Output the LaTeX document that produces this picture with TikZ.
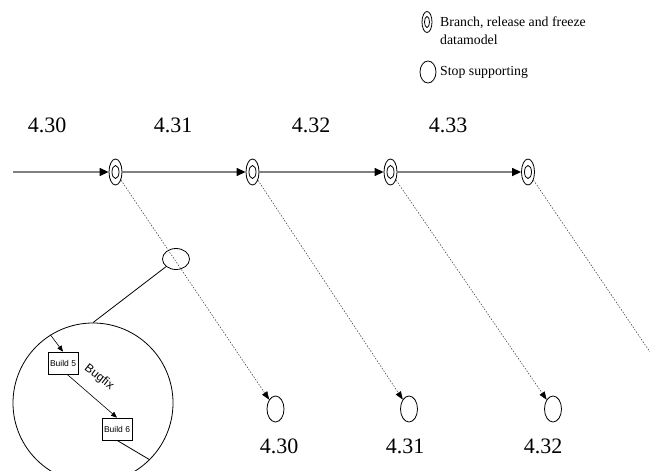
\documentclass[tikz,border=0pt]{standalone}
\usepackage{fontspec}
\setmainfont{Liberation Serif}
\setsansfont{Liberation Sans}
\usetikzlibrary{arrows.meta}
\usetikzlibrary{shapes.geometric}

\tikzset{
  release/.style={ellipse,draw,line width=0.8pt,inner sep=0pt,
    minimum width=13pt,minimum height=26pt,
    path picture={\draw[line width=0.8pt] (path picture bounding box.center) ellipse (3.5pt and 6.5pt);}},
  stopnode/.style={ellipse,draw,line width=0.8pt,inner sep=0pt,minimum width=17pt,minimum height=26pt},
  build/.style={rectangle,draw,line width=0.7pt,font=\sffamily\fontsize{8.5}{10}\selectfont,
    minimum width=30pt,minimum height=22pt,inner sep=1pt},
  version/.style={font=\fontsize{22}{26}\selectfont},
  keytext/.style={anchor=west,inner sep=0pt,font=\fontsize{13.8}{18}\selectfont},
  trunk/.style={draw=gray,line width=1.3pt,-{Triangle[length=9pt,width=8pt,color=black]}},
  branchoff/.style={draw=black!80,line width=0.5pt,dash pattern=on 1.5pt off 1.5pt},
}

\begin{document}
\begin{tikzpicture}[x=1pt,y=-1pt,>=latex]
\useasboundingbox (0,0) rectangle (651,471);
%%
\node (lg_rel) at (427,22) [release,minimum width=10pt,minimum height=21pt,
  path picture={\draw[line width=0.8pt] (path picture bounding box.center) ellipse (2.5pt and 5.5pt);}] {};
  \node (lg_reltxt) at (440,31) [keytext,align=left] {Branch, release and freeze\\datamodel};
  \node (lg_stop) at (428,72) [stopnode,minimum width=16pt,minimum height=22pt] {};
  \node (lg_stoptxt) at (440,72) [keytext] {Stop supporting};
%
\node (v430) at (47,125) [version] {4.30};
  \node (v431) at (173,125) [version] {4.31};
  \node (v432) at (311,125) [version] {4.32};
  \node (v433) at (448,125) [version] {4.33};
%
\coordinate (trunk_in) at (13,172);
  \node (rel1) at (115.5,172) [release] {};
  \node (rel2) at (252.5,172) [release] {};
  \node (rel3) at (390.5,172) [release] {};
  \node (rel4) at (528,172) [release] {};
  \draw [trunk] (trunk_in) -- (rel1);
  \draw [trunk] (rel1) -- (rel2);
  \draw [trunk] (rel2) -- (rel3);
  \draw [trunk] (rel3) -- (rel4);
%
\node (old1) at (275.5,409) [stopnode] {};
  \node (old2) at (409,409) [stopnode] {};
  \node (old3) at (553,409) [stopnode] {};
  \node (o430) at (279,446) [version] {4.30};
  \node (o431) at (405,446) [version] {4.31};
  \node (o432) at (543,446) [version] {4.32};
  \coordinate (rel4_out) at (650,352);
  \draw [branchoff,-{Triangle[length=8pt,width=6pt,color=black]}] (rel1) -- (old1);
  \draw [branchoff,-{Triangle[length=8pt,width=6pt,color=black]}] (rel2) -- (old2);
  \draw [branchoff,-{Triangle[length=8pt,width=6pt,color=black]}] (rel3) -- (old3);
  \draw [branchoff] (rel4) -- (rel4_out);
%
\node (stop1) at (176,259) [ellipse,draw,line width=0.8pt,inner sep=0pt,minimum width=27pt,minimum height=21pt] {};
  \node (detail) at (93,403) [circle,draw,line width=0.8pt,minimum size=160pt] {};
  \draw [line width=0.8pt] (stop1) -- (detail.north);
  \node (b5) at (63,363) [build] {Build 5};
  \node (b6) at (117,429) [build] {Build 6};
  \draw [line width=0.6pt,-{Triangle[length=6pt,width=5pt]}] (detail.122) -- (b5.north);
  \draw [line width=0.6pt,-{Triangle[length=6pt,width=5pt]}] (b5.290) -- (b6.north);
  \node (bugfix) at (99,377) [rotate=-38,font=\sffamily\fontsize{12}{14}\selectfont] {Bugfix};
  \draw [line width=0.8pt] (b6.south) -- (detail.-45);
%
\end{tikzpicture}
\end{document}
